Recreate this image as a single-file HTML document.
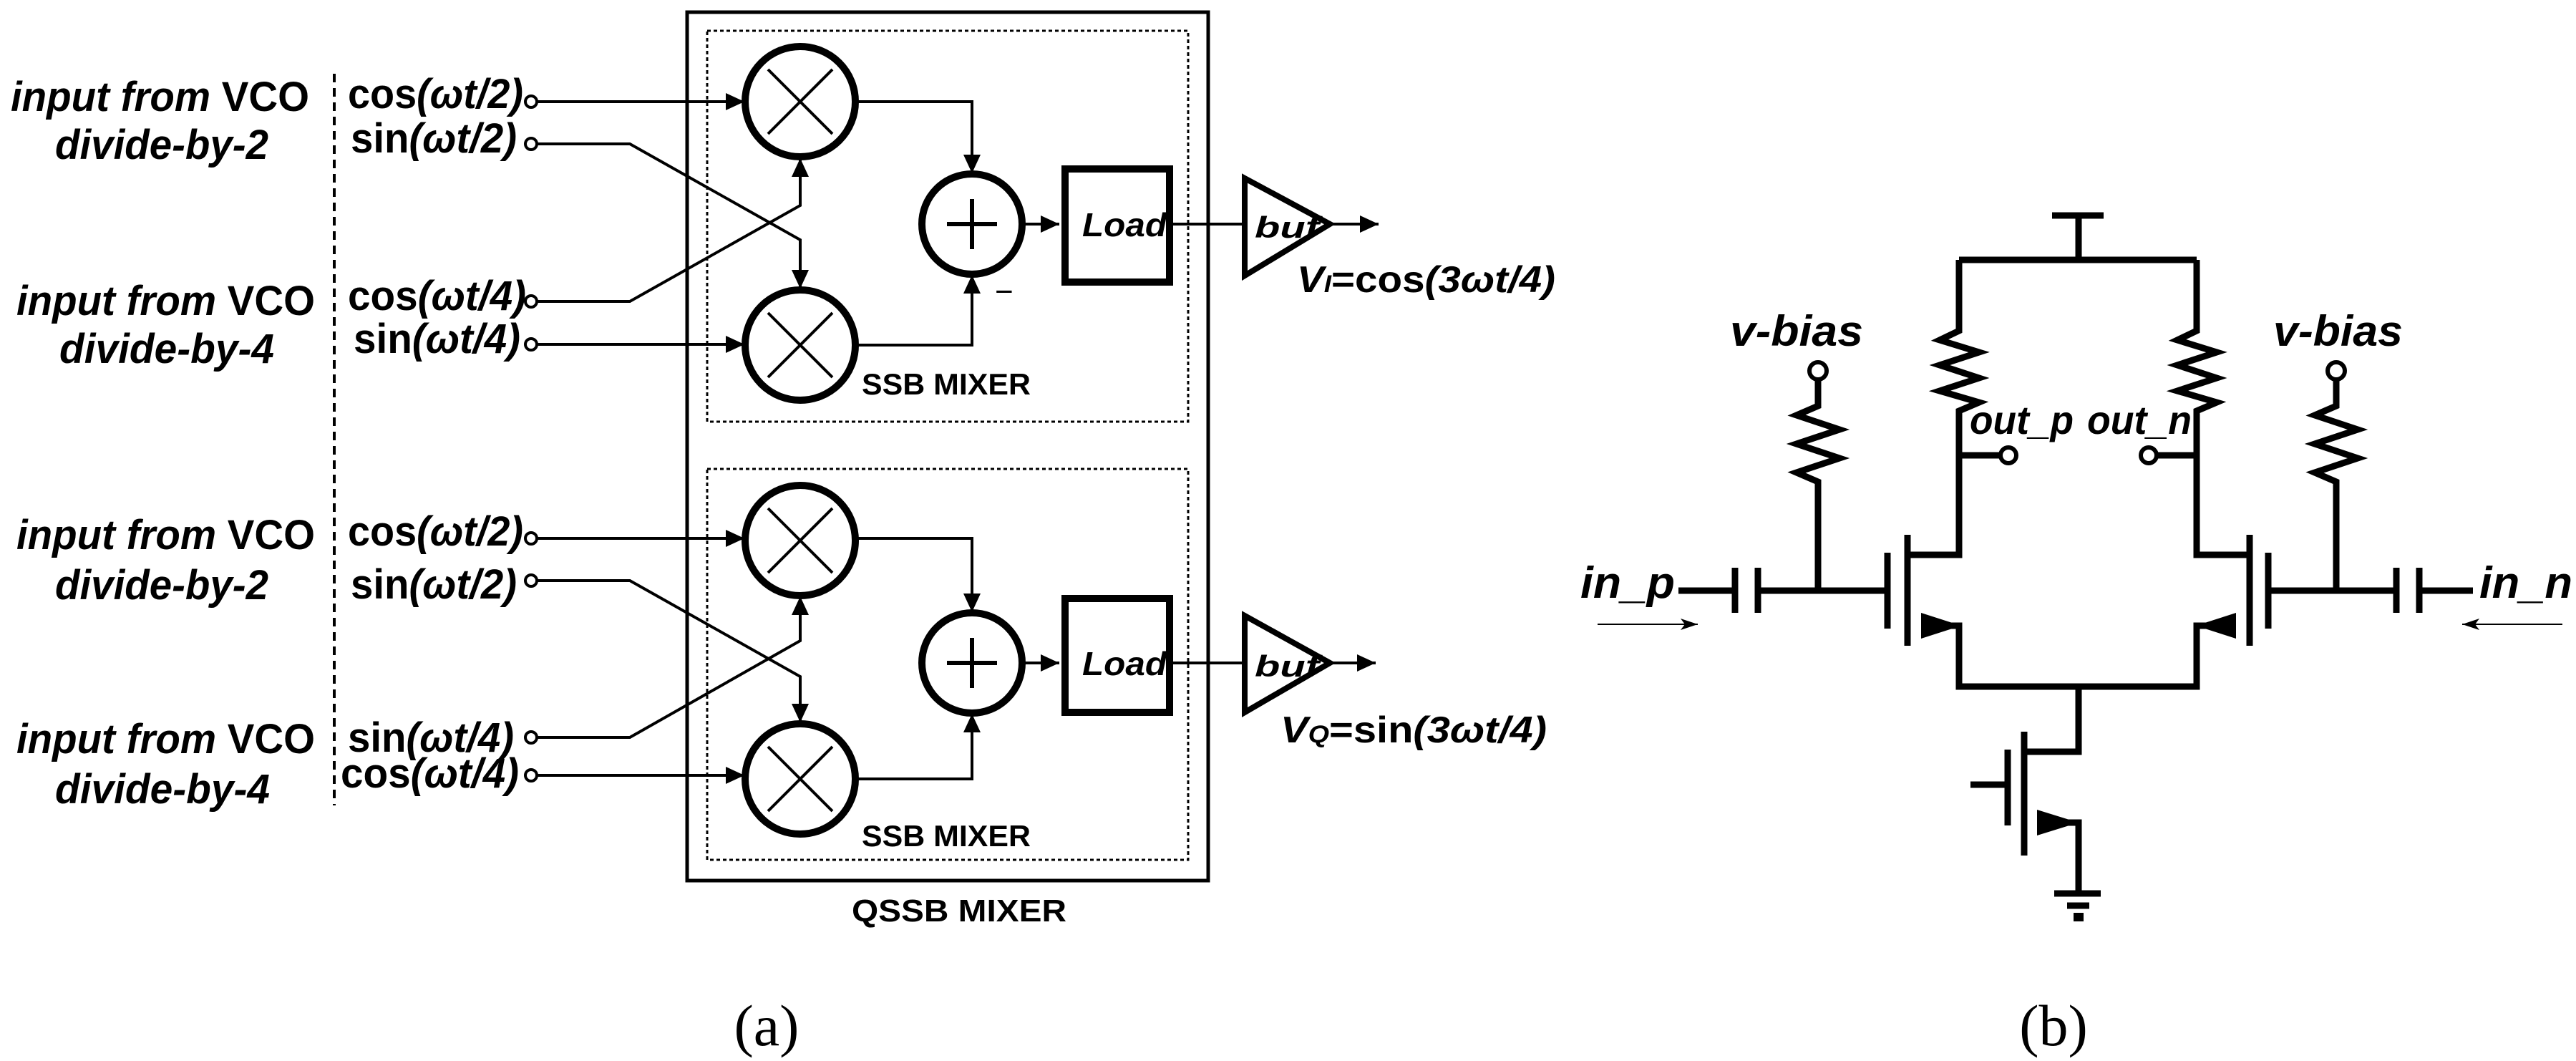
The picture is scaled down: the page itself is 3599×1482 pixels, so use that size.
<!DOCTYPE html>
<html><head><meta charset="utf-8"><style>
html,body{margin:0;padding:0;background:#fff}
svg{display:block}
.t{font-family:"Liberation Sans",sans-serif;font-weight:bold}
.i{font-style:italic}
</style></head><body>
<svg width="3599" height="1482" viewBox="0 0 3599 1482" xmlns="http://www.w3.org/2000/svg">
<defs>
<marker id="a" markerUnits="userSpaceOnUse" markerWidth="30" markerHeight="30" refX="26" refY="12" orient="auto"><path d="M0,0 L26,12 L0,24 z" fill="#000"/></marker>
<marker id="s" markerUnits="userSpaceOnUse" markerWidth="30" markerHeight="20" refX="24" refY="8" orient="auto"><path d="M0,0 L24,8 L0,16 L6,8 z" fill="#000"/></marker>
</defs>
<g class="t" fill="#000">
<!-- left labels -->
<text class="i" x="15" y="155" font-size="58" textLength="417" lengthAdjust="spacingAndGlyphs">input from <tspan font-style="normal">VCO</tspan></text>
<text class="i" x="77" y="222" font-size="58" textLength="298" lengthAdjust="spacingAndGlyphs">divide-by-2</text>
<text class="i" x="23" y="440" font-size="58" textLength="417" lengthAdjust="spacingAndGlyphs">input from <tspan font-style="normal">VCO</tspan></text>
<text class="i" x="83" y="507" font-size="58" textLength="300" lengthAdjust="spacingAndGlyphs">divide-by-4</text>
<text class="i" x="23" y="767" font-size="58" textLength="417" lengthAdjust="spacingAndGlyphs">input from <tspan font-style="normal">VCO</tspan></text>
<text class="i" x="77" y="837" font-size="58" textLength="298" lengthAdjust="spacingAndGlyphs">divide-by-2</text>
<text class="i" x="23" y="1052" font-size="58" textLength="417" lengthAdjust="spacingAndGlyphs">input from <tspan font-style="normal">VCO</tspan></text>
<text class="i" x="77" y="1122" font-size="58" textLength="300" lengthAdjust="spacingAndGlyphs">divide-by-4</text>
<text x="486" y="151" font-size="58" textLength="245" lengthAdjust="spacingAndGlyphs">cos<tspan class="i">(ωt/2)</tspan></text>
<text x="490" y="213" font-size="58" textLength="232" lengthAdjust="spacingAndGlyphs">sin<tspan class="i">(ωt/2)</tspan></text>
<text x="486" y="433" font-size="58" textLength="249" lengthAdjust="spacingAndGlyphs">cos<tspan class="i">(ωt/4)</tspan></text>
<text x="494" y="493" font-size="58" textLength="233" lengthAdjust="spacingAndGlyphs">sin<tspan class="i">(ωt/4)</tspan></text>
<text x="486" y="762" font-size="58" textLength="245" lengthAdjust="spacingAndGlyphs">cos<tspan class="i">(ωt/2)</tspan></text>
<text x="490" y="836" font-size="58" textLength="232" lengthAdjust="spacingAndGlyphs">sin<tspan class="i">(ωt/2)</tspan></text>
<text x="486" y="1050" font-size="58" textLength="232" lengthAdjust="spacingAndGlyphs">sin<tspan class="i">(ωt/4)</tspan></text>
<text x="476" y="1100" font-size="58" textLength="249" lengthAdjust="spacingAndGlyphs">cos<tspan class="i">(ωt/4)</tspan></text>
<!-- block labels -->
<text class="i" x="1512" y="330" font-size="46" textLength="118" lengthAdjust="spacingAndGlyphs">Load</text>
<text class="i" x="1512" y="943" font-size="46" textLength="118" lengthAdjust="spacingAndGlyphs">Load</text>
<text class="i" x="1753" y="332" font-size="42" textLength="90" lengthAdjust="spacingAndGlyphs">buf</text>
<text class="i" x="1753" y="945" font-size="42" textLength="90" lengthAdjust="spacingAndGlyphs">buf</text>
<text x="1204" y="551" font-size="42" textLength="236" lengthAdjust="spacingAndGlyphs">SSB MIXER</text>
<text x="1204" y="1182" font-size="42" textLength="236" lengthAdjust="spacingAndGlyphs">SSB MIXER</text>
<text x="1190" y="1287" font-size="44" textLength="300" lengthAdjust="spacingAndGlyphs">QSSB MIXER</text>
<text class="i" x="1812" y="408" font-size="52" textLength="361" lengthAdjust="spacingAndGlyphs">V<tspan font-size="34">I</tspan><tspan font-style="normal">=cos</tspan>(3ωt/4)</text>
<text class="i" x="1789" y="1037" font-size="52" textLength="372" lengthAdjust="spacingAndGlyphs">V<tspan font-size="34">Q</tspan><tspan font-style="normal">=sin</tspan>(3ωt/4)</text>
<text x="1390" y="422" font-size="44" font-weight="normal">−</text>
<!-- circuit labels -->
<text class="i" x="2417" y="483" font-size="60" textLength="186" lengthAdjust="spacingAndGlyphs">v-bias</text>
<text class="i" x="3176" y="483" font-size="60" textLength="181" lengthAdjust="spacingAndGlyphs">v-bias</text>
<text class="i" x="2752" y="606" font-size="56" textLength="145" lengthAdjust="spacingAndGlyphs">out_p</text>
<text class="i" x="2916" y="606" font-size="56" textLength="146" lengthAdjust="spacingAndGlyphs">out_n</text>
<text class="i" x="2208" y="835" font-size="62" textLength="132" lengthAdjust="spacingAndGlyphs">in_p</text>
<text class="i" x="3464" y="835" font-size="62" textLength="130" lengthAdjust="spacingAndGlyphs">in_n</text>
</g>
<text x="1071" y="1460" font-size="82" font-family="Liberation Serif,serif" text-anchor="middle">(a)</text>
<text x="2869" y="1460" font-size="82" font-family="Liberation Serif,serif" text-anchor="middle">(b)</text>

<g fill="none" stroke="#000">
<line x1="467" y1="103" x2="467" y2="1125" stroke-width="4" stroke-dasharray="12,8"/>
<rect x="960" y="17" width="728" height="1213" stroke-width="5"/>
<rect x="988" y="43" width="672" height="546" stroke-width="3" stroke-dasharray="5,4"/>
<rect x="988" y="655" width="672" height="546" stroke-width="3" stroke-dasharray="5,4"/>
<g stroke-width="4" fill="#fff">
<circle cx="742" cy="142" r="8"/><circle cx="742" cy="201" r="8"/><circle cx="742" cy="421" r="8"/><circle cx="742" cy="481" r="8"/>
<circle cx="742" cy="752" r="8"/><circle cx="742" cy="811" r="8"/><circle cx="742" cy="1030" r="8"/><circle cx="742" cy="1083" r="8"/>
</g>
<g stroke-width="4">
<path d="M750,142 H1040" marker-end="url(#a)"/>
<path d="M750,201 H880 L1118,335 V403" marker-end="url(#a)"/>
<path d="M750,421 H880 L1118,287 V221" marker-end="url(#a)"/>
<path d="M750,481 H1040" marker-end="url(#a)"/>
<path d="M750,752 H1040" marker-end="url(#a)"/>
<path d="M750,811 H880 L1118,945 V1009" marker-end="url(#a)"/>
<path d="M750,1030 H880 L1118,895 V833" marker-end="url(#a)"/>
<path d="M750,1083 H1040" marker-end="url(#a)"/>
<path d="M1196,142 H1358 V242" marker-end="url(#a)"/>
<path d="M1196,482 H1358 V384" marker-end="url(#a)"/>
<path d="M1428,313 H1480" marker-end="url(#a)"/>
<path d="M1634,313 H1739"/>
<path d="M1858,313 H1926" marker-end="url(#a)"/>
<path d="M1196,752 H1358 V855" marker-end="url(#a)"/>
<path d="M1196,1088 H1358 V997" marker-end="url(#a)"/>
<path d="M1428,926 H1480" marker-end="url(#a)"/>
<path d="M1634,926 H1739"/>
<path d="M1858,926 H1922" marker-end="url(#a)"/>
</g>
<g stroke-width="10">
<circle cx="1118" cy="142" r="77"/><circle cx="1118" cy="482" r="77"/>
<circle cx="1118" cy="755" r="77"/><circle cx="1118" cy="1088" r="77"/>
<circle cx="1358" cy="313" r="70"/><circle cx="1358" cy="926" r="70"/>
<rect x="1488" y="236" width="146" height="158"/>
<rect x="1488" y="836" width="146" height="159"/>
<path d="M1739,249 L1858,313 L1739,385 Z" stroke-width="8"/>
<path d="M1739,860 L1858,926 L1739,995 Z" stroke-width="8"/>
</g>
<g stroke-width="4">
<path d="M1073,97 L1163,187 M1163,97 L1073,187"/>
<path d="M1073,437 L1163,527 M1163,437 L1073,527"/>
<path d="M1073,710 L1163,800 M1163,710 L1073,800"/>
<path d="M1073,1043 L1163,1133 M1163,1043 L1073,1133"/>
</g>
<g stroke-width="6">
<path d="M1323,313 H1393 M1358,278 V348"/>
<path d="M1323,926 H1393 M1358,891 V961"/>
</g>
<g stroke-width="9" stroke-linejoin="miter">
<path d="M2867,301 H2939 M2904,301 V363 M2737,363 H3069"/>
<path d="M2737,363 V462 L2710,475 L2765,492 L2710,510 L2765,528 L2710,546 L2765,562 L2737,574 V775 H2665"/>
<path d="M3069,363 V462 L3042,475 L3097,492 L3042,510 L3097,528 L3042,546 L3097,562 L3069,574 V775 H3143"/>
<path d="M2737,636 H2795 M3069,636 H3012"/>
<path d="M2665,747 V902 M2637,772 V878"/>
<path d="M3143,747 V902 M3169,772 V878"/>
<path d="M2684,874 H2737 V959 H3069 V874 H3124"/>
<path d="M2904,959 V1050 H2832 M2828,1022 V1195 M2805,1047 V1153 M2753,1096 H2805"/>
<path d="M2846,1149 H2904 V1248 M2870,1248 H2935 M2888,1265 H2919"/>
<path d="M2345,825 H2424 M2424,793 V856 M2456,793 V856 M2456,825 H2637"/>
<path d="M3455,825 H3380 M3380,793 V856 M3348,793 V856 M3348,825 H3169"/>
<path d="M2540,532 V567 L2510,580 L2570,600 L2510,620 L2570,640 L2510,660 L2540,673 V825"/>
<path d="M3264,532 V567 L3234,580 L3294,600 L3234,620 L3294,640 L3234,660 L3264,673 V825"/>
</g>
<g stroke-width="6" fill="#fff">
<circle cx="2540" cy="518" r="12"/><circle cx="3264" cy="518" r="12"/>
<circle cx="2806" cy="636" r="11"/><circle cx="3002" cy="636" r="11"/>
</g>
<path d="M2232,872 H2372" stroke-width="2" marker-end="url(#s)"/>
<path d="M3580,872 H3440" stroke-width="2" marker-end="url(#s)"/>
</g>
<g fill="#000">
<path d="M2684,856 L2740,874 L2684,892 Z"/>
<path d="M3124,856 L3068,874 L3124,892 Z"/>
<path d="M2846,1131 L2904,1149 L2846,1167 Z"/>
<rect x="2897" y="1275" width="14" height="12"/>
</g>
</svg>
</body></html>
